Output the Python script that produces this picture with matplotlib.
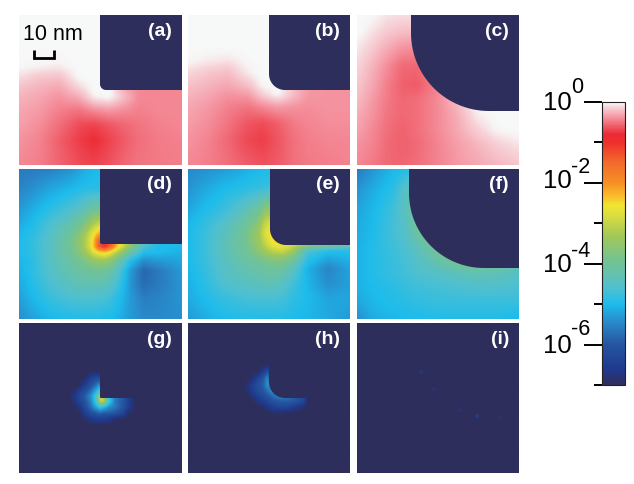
import numpy as np
from matplotlib import pyplot as plt
from matplotlib.colors import LinearSegmentedColormap, Normalize
from matplotlib.cm import ScalarMappable
from matplotlib.patches import Polygon

W, H = 634, 484
plt.rcParams['font.family'] = ['Liberation Sans', 'DejaVu Sans']

# colour scale, log10 value -> colour
scale_vals = [-7, -6.6, -6.0, -5.5, -5.0, -4.6, -4.2, -3.9, -3.3, -2.75, -2.55,
              -2.3, -2.0, -1.5, -1.0, -0.8, -0.6, -0.35, -0.12, -0.03, 0]
scale_cols = ['#2e2e5c', '#1f3a8f', '#25559f', '#2a84c6', '#1dbcec', '#50c0d0', '#68c2a8',
              '#74c391', '#a3c856', '#e0df3c', '#f0e531', '#fbb829', '#f68f25', '#f26b2c',
              '#ee2f2d', '#ec2a34', '#ef5a66', '#f59aa6', '#f7d5da', '#f7f5f5', '#f7f9f8']

# log10 field sampled from each panel, position in px inside the panel
a_x = [0, 20, 40, 60, 75, 90, 105, 120, 140, 163]
a_y = [0, 30, 50, 62, 72, 82, 95, 110, 125, 150]
a_z = [[0, 0, 0, 0, 0, 0, 0, 0, 0, 0],
       [0, 0, 0, 0, 0, 0, 0, 0, 0, 0],
       [-0.01, -0.03, -0.05, 0, 0, 0, 0, 0, 0, 0],
       [-0.1, -0.18, -0.2, -0.02, 0, 0, -0.3, -0.4, -0.42, -0.42],
       [-0.2, -0.25, -0.3, -0.12, 0, 0, -0.3, -0.42, -0.42, -0.42],
       [-0.25, -0.3, -0.38, -0.28, -0.05, 0, -0.2, -0.42, -0.42, -0.42],
       [-0.3, -0.35, -0.45, -0.5, -0.4, -0.35, -0.4, -0.45, -0.42, -0.42],
       [-0.33, -0.4, -0.52, -0.66, -0.7, -0.62, -0.55, -0.5, -0.45, -0.42],
       [-0.38, -0.44, -0.58, -0.72, -0.8, -0.7, -0.6, -0.52, -0.47, -0.45],
       [-0.42, -0.46, -0.56, -0.66, -0.7, -0.64, -0.55, -0.5, -0.48, -0.46]]

b_x = [0, 20, 40, 60, 75, 90, 105, 120, 140, 163]
b_y = [0, 30, 45, 58, 70, 80, 92, 108, 125, 150]
b_z = [[0, 0, 0, 0, 0, 0, 0, 0, 0, 0],
       [0, 0, 0, 0, 0, 0, 0, 0, 0, 0],
       [-0.02, -0.06, -0.08, -0.02, 0, 0, 0, 0, 0, 0],
       [-0.12, -0.18, -0.22, -0.06, 0, 0, -0.2, -0.35, -0.38, -0.38],
       [-0.2, -0.25, -0.3, -0.2, -0.02, 0, -0.2, -0.36, -0.38, -0.38],
       [-0.25, -0.3, -0.38, -0.35, -0.15, -0.02, -0.2, -0.36, -0.38, -0.38],
       [-0.3, -0.36, -0.45, -0.5, -0.42, -0.35, -0.38, -0.4, -0.38, -0.38],
       [-0.34, -0.4, -0.5, -0.62, -0.66, -0.58, -0.48, -0.43, -0.4, -0.4],
       [-0.38, -0.44, -0.55, -0.68, -0.72, -0.62, -0.52, -0.46, -0.43, -0.42],
       [-0.42, -0.46, -0.52, -0.6, -0.64, -0.6, -0.52, -0.48, -0.46, -0.44]]

c_x = [0, 15, 30, 45, 60, 80, 100, 120, 140, 163]
c_y = [0, 15, 30, 50, 70, 85, 100, 115, 130, 150]
c_z = [[0, -0.02, -0.08, -0.1, -0.1, -0.1, -0.1, -0.1, -0.1, -0.1],
       [0, -0.08, -0.16, -0.2, -0.2, -0.2, -0.2, -0.2, -0.2, -0.2],
       [-0.06, -0.15, -0.26, -0.35, -0.38, -0.3, -0.3, -0.3, -0.3, -0.3],
       [-0.12, -0.25, -0.4, -0.54, -0.55, -0.4, -0.3, -0.3, -0.3, -0.3],
       [-0.18, -0.3, -0.46, -0.58, -0.6, -0.45, -0.2, -0.1, -0.1, -0.1],
       [-0.22, -0.35, -0.48, -0.55, -0.52, -0.42, -0.22, -0.02, 0, 0],
       [-0.28, -0.38, -0.5, -0.55, -0.52, -0.42, -0.28, -0.06, 0, 0],
       [-0.32, -0.42, -0.52, -0.57, -0.52, -0.42, -0.3, -0.15, -0.03, 0],
       [-0.38, -0.44, -0.54, -0.58, -0.54, -0.44, -0.34, -0.25, -0.15, -0.08],
       [-0.42, -0.48, -0.54, -0.56, -0.52, -0.44, -0.36, -0.3, -0.24, -0.18]]

d_x = [0, 12, 30, 50, 62, 70, 75, 80, 86, 92, 100, 112, 125, 140, 163]
d_y = [0, 20, 40, 55, 65, 72, 78, 84, 92, 102, 115, 130, 150]
d_z = [[-5.6, -5.6, -5.55, -5.4, -5.2, -5.1, -5.05, -5, -5, -5, -5, -5, -5, -5, -5],
       [-5.5, -5.4, -5.2, -5.05, -4.95, -4.9, -4.9, -4.9, -4.9, -4.9, -4.9, -4.9, -4.9, -4.9, -4.9],
       [-5.3, -5.15, -4.9, -4.65, -4.45, -4.2, -4.1, -4, -4, -4, -4, -4, -4, -4, -4],
       [-5.15, -5.0, -4.65, -4.3, -3.95, -3.5, -3.2, -3, -3, -3, -3, -3, -3, -3, -3],
       [-5.05, -4.9, -4.55, -4.1, -3.6, -3.0, -2.6, -2.2, -2, -2, -3, -3, -4, -4, -4],
       [-5.0, -4.85, -4.5, -4.0, -3.45, -2.9, -2.3, -1.4, -1.1, -1.3, -2.5, -3.5, -4.5, -5, -5],
       [-5.0, -4.85, -4.5, -4.0, -3.5, -2.9, -2.3, -1.3, -0.95, -1.5, -2.6, -3.6, -4.6, -4.95, -5.05],
       [-5.0, -4.85, -4.5, -4.05, -3.6, -3.15, -2.75, -2.55, -2.4, -2.7, -3.3, -4.2, -4.95, -5.0, -5.1],
       [-5.05, -4.9, -4.5, -4.15, -3.85, -3.65, -3.5, -3.4, -3.4, -3.6, -4.1, -4.95, -5.4, -5.3, -5.2],
       [-5.1, -4.9, -4.55, -4.25, -4.1, -4.0, -3.95, -3.95, -4.0, -4.15, -4.55, -5.3, -5.8, -5.6, -5.3],
       [-5.15, -4.95, -4.65, -4.4, -4.3, -4.3, -4.3, -4.3, -4.35, -4.45, -4.75, -5.35, -5.75, -5.6, -5.35],
       [-5.25, -5.05, -4.8, -4.65, -4.6, -4.6, -4.6, -4.65, -4.65, -4.75, -4.95, -5.3, -5.55, -5.5, -5.35],
       [-5.4, -5.25, -5.05, -4.95, -4.95, -4.95, -4.95, -4.95, -5.0, -5.0, -5.1, -5.3, -5.45, -5.45, -5.4]]

e_x = [0, 15, 35, 55, 70, 78, 86, 95, 105, 120, 140, 163]
e_y = [0, 20, 40, 55, 65, 75, 82, 90, 100, 115, 130, 150]
e_z = [[-5.45, -5.4, -5.3, -5.15, -5.05, -5, -5, -5, -5, -5, -5, -5],
       [-5.35, -5.2, -5.0, -4.9, -4.8, -4.75, -4.7, -4.7, -4.7, -4.7, -4.7, -4.7],
       [-5.2, -5.0, -4.8, -4.45, -4.1, -3.6, -3.5, -3.5, -3.5, -3.5, -3.5, -3.5],
       [-5.05, -4.85, -4.55, -4.15, -3.6, -2.9, -2.7, -2.7, -2.7, -2.7, -2.7, -2.7],
       [-5.0, -4.8, -4.45, -4.0, -3.4, -2.7, -2.4, -2.4, -2.6, -3, -3.5, -4],
       [-5.0, -4.8, -4.4, -4.0, -3.45, -2.95, -2.5, -2.55, -2.8, -3.2, -3.5, -4],
       [-5.0, -4.8, -4.4, -4.05, -3.6, -3.25, -3.0, -2.9, -3.3, -4.6, -4.9, -4.95],
       [-5.0, -4.8, -4.45, -4.15, -3.9, -3.75, -3.6, -3.6, -3.9, -4.85, -5.2, -5.05],
       [-5.05, -4.85, -4.5, -4.3, -4.15, -4.05, -4.0, -4.1, -4.4, -5.1, -5.5, -5.2],
       [-5.1, -4.9, -4.6, -4.45, -4.4, -4.35, -4.35, -4.45, -4.7, -5.05, -5.4, -5.25],
       [-5.15, -5.0, -4.8, -4.7, -4.65, -4.65, -4.65, -4.7, -4.85, -5.0, -5.2, -5.2],
       [-5.3, -5.15, -5.0, -4.95, -4.95, -4.95, -4.95, -4.95, -5.0, -5.05, -5.15, -5.3]]

f_x = [0, 15, 35, 50, 60, 80, 100, 120, 140, 163]
f_y = [0, 20, 40, 60, 80, 95, 105, 120, 135, 150]
f_z = [[-5.6, -5.35, -5.05, -4.95, -4.95, -4.9, -4.9, -4.9, -4.9, -4.9],
       [-5.35, -5.15, -4.9, -4.45, -4.3, -4.3, -4.3, -4.3, -4.3, -4.3],
       [-5.2, -5.05, -4.75, -4.35, -4.0, -3.9, -3.9, -3.9, -3.9, -3.9],
       [-5.15, -5.0, -4.7, -4.45, -4.0, -3.8, -3.8, -3.8, -3.8, -3.8],
       [-5.1, -4.95, -4.75, -4.6, -4.4, -3.95, -3.7, -3.7, -3.7, -3.7],
       [-5.1, -4.95, -4.8, -4.65, -4.55, -4.3, -4.0, -3.9, -4.0, -4.3],
       [-5.1, -4.95, -4.8, -4.7, -4.6, -4.5, -4.4, -4.3, -4.35, -4.5],
       [-5.1, -5.0, -4.9, -4.8, -4.75, -4.7, -4.65, -4.6, -4.6, -4.65],
       [-5.2, -5.05, -4.95, -4.9, -4.85, -4.8, -4.8, -4.8, -4.8, -4.8],
       [-5.4, -5.15, -5.05, -5.0, -5.0, -4.95, -4.95, -4.95, -4.95, -5.05]]

g_x = [0, 50, 55, 60, 66, 72, 78, 81, 84, 90, 96, 104, 110, 116, 163]
g_y = [0, 48, 54, 62, 68, 73, 78, 84, 90, 96, 102, 150]
g_z = [[-7] * 15,
       [-7] * 15,
       [-7, -7, -7, -7, -7, -6.5, -6.3, -6.4, -7, -7, -7, -7, -7, -7, -7],
       [-7, -7, -7, -7, -6.5, -6.1, -5.6, -5.3, -7, -7, -7, -7, -7, -7, -7],
       [-7, -7, -6.9, -6.5, -6.1, -5.7, -5.0, -4.3, -7, -7, -7, -7, -7, -7, -7],
       [-7, -7, -6.7, -6.3, -5.9, -5.4, -4.4, -3.0, -3.2, -5.0, -5.6, -6.0, -6.5, -7, -7],
       [-7, -7, -6.8, -6.4, -6.0, -5.5, -4.4, -3.0, -2.9, -4.6, -5.6, -6.0, -6.5, -7, -7],
       [-7, -7, -7, -6.7, -6.2, -5.7, -5.1, -4.7, -4.9, -5.4, -5.6, -6.0, -6.5, -7, -7],
       [-7, -7, -7, -7, -6.5, -6.1, -5.9, -5.8, -5.9, -5.9, -6.0, -6.3, -6.9, -7, -7],
       [-7, -7, -7, -7, -6.9, -6.6, -6.5, -6.5, -6.5, -6.6, -6.9, -7, -7, -7, -7],
       [-7] * 15,
       [-7] * 15]

h_x = [0, 55, 60, 65, 70, 75, 80, 84, 88, 94, 100, 108, 116, 120, 163]
h_y = [0, 36, 42, 48, 55, 62, 68, 73, 78, 84, 90, 96, 150]
h_z = [[-7] * 15,
       [-7] * 15,
       [-7, -7, -7, -7, -7, -7, -6.9, -7, -7, -7, -7, -7, -7, -7, -7],
       [-7, -7, -7, -7, -7, -6.6, -6.1, -7, -7, -7, -7, -7, -7, -7, -7],
       [-7, -7, -7, -6.8, -6.4, -6.0, -5.4, -7, -7, -7, -7, -7, -7, -7, -7],
       [-7, -7, -6.8, -6.4, -6.1, -5.9, -5.3, -5.6, -7, -7, -7, -7, -7, -7, -7],
       [-7, -7, -6.8, -6.5, -6.2, -6.0, -5.7, -5.4, -5.7, -7, -7, -7, -7, -7, -7],
       [-7, -7, -7, -6.7, -6.4, -6.2, -6.0, -5.8, -5.6, -5.5, -5.7, -6.0, -6.4, -7, -7],
       [-7, -7, -7, -7, -6.7, -6.5, -6.3, -6.1, -6.0, -5.9, -5.9, -6.0, -6.3, -7, -7],
       [-7, -7, -7, -7, -7, -6.9, -6.7, -6.5, -6.4, -6.3, -6.3, -6.6, -6.9, -7, -7],
       [-7, -7, -7, -7, -7, -7, -7, -6.9, -6.9, -6.9, -7, -7, -7, -7, -7],
       [-7] * 15,
       [-7] * 15]

# panel (i) is empty but for a few faint specks along the tip edge
i_x = [0, 163]
i_y = [0, 150]
i_z = [[-7, -7], [-7, -7]]
speck_x = [64, 77, 103, 120, 143]
speck_y = [49, 66, 87, 93, 95]
speck_v = [-6.6, -6.7, -6.7, -6.4, -6.8]

labels = ['(a)', '(b)', '(c)', '(d)', '(e)', '(f)', '(g)', '(h)', '(i)']
fields = [(a_x, a_y, a_z), (b_x, b_y, b_z), (c_x, c_y, c_z),
          (d_x, d_y, d_z), (e_x, e_y, e_z), (f_x, f_y, f_z),
          (g_x, g_y, g_z), (h_x, h_y, h_z), (i_x, i_y, i_z)]

# tip outline per panel: left edge, lower edge, corner radius. None means not drawn
tips = [(81, 75, 6), (81, 75, 16), (54, 96, 78),
        (81, 75, 2), (82, 76, 16), (52, 99, 75),
        (81, 75, 1), (81, 75, 16), None]
blur = [7, 7, 7, 3, 5, 7, 3, 3, 1]

col_x = [19, 188, 357]
col_w = [163, 162, 162]
row_y = [15, 169, 323]
row_h = 150

bar_ticks = [0, -1, -2, -3, -4, -5, -6, -7]
bar_labels = ['0', '-2', '-4', '-6']
ten_base = [110, 188, 272, 353]
sup_base = [93, 173, 257, 335]

cmap = LinearSegmentedColormap.from_list(
    'field', [((v + 7) / 7, c) for v, c in zip(scale_vals, scale_cols)], N=1024)
norm = Normalize(-7, 0)


def px_axes(x, y, w, h):
    # axes placed with pixel numbers counted from the top left
    return fig.add_axes([x / W, 1 - (y + h) / H, w / W, h / H])


def resample(xs, ys, zs, w, h, size):
    gx = np.arange(0, w + 1)
    gy = np.arange(0, h + 1)
    zs = np.asarray(zs, dtype=float)
    rows = np.array([np.interp(gx, xs, r) for r in zs])
    fine = np.array([np.interp(gy, ys, rows[:, i]) for i in range(len(gx))]).T
    # soften the kinks of the sampling grid
    kern = np.ones(size) / size
    half = size // 2
    for axis in (0, 1):
        pad = np.pad(fine, [(half, half) if k == axis else (0, 0) for k in (0, 1)], mode='edge')
        fine = np.apply_along_axis(lambda m: np.convolve(m, kern, mode='valid'), axis, pad)
    return fine


def tip_patch(left, bottom, r, w):
    t = np.linspace(np.pi, np.pi / 2, 40)
    arc_x = left + r - r * np.abs(np.cos(t))
    arc_y = bottom - r + r * np.sin(t)
    xy = [(left, -5)] + list(zip(arc_x, arc_y)) + [(w + 5, bottom), (w + 5, -5)]
    return Polygon(xy, closed=True, facecolor=scale_cols[0], edgecolor='none', zorder=3)


fig = plt.figure(figsize=(W / 100, H / 100), dpi=100, facecolor='white')

for n, (xs, ys, zs) in enumerate(fields):
    row, col = divmod(n, 3)
    w = col_w[col]
    ax = px_axes(col_x[col], row_y[row], w, row_h)
    ax.imshow(resample(xs, ys, zs, w, row_h, blur[n]), cmap=cmap, norm=norm,
              extent=(0, w, row_h, 0), aspect='auto', interpolation='bilinear')
    if tips[n] is not None:
        ax.add_patch(tip_patch(*tips[n], w))
    if n == 8:
        ax.scatter(speck_x, speck_y, c=speck_v, cmap=cmap, norm=norm, s=8, alpha=0.7,
                   linewidths=0, zorder=4)
    ax.text(w - 10, 16, labels[n], color='white', fontsize=14, fontweight='bold',
            ha='right', va='center', zorder=5)
    ax.set_xlim(0, w)
    ax.set_ylim(row_h, 0)
    ax.axis('off')

# scale bar on panel (a)
ax0 = fig.axes[0]
ax0.plot([15, 15, 35, 35], [35, 43, 43, 35], color='black', lw=2, solid_joinstyle='miter',
         solid_capstyle='butt', zorder=5)
ax0.text(4, 19, '10 nm', color='black', fontsize=15.5, ha='left', va='center', zorder=5)

# colour bar
cax = px_axes(602, 102, 23, 283)
cb = fig.colorbar(ScalarMappable(norm=norm, cmap=cmap), cax=cax)
cb.outline.set_linewidth(0.8)
cb.outline.set_edgecolor('#222222')
cax.yaxis.set_ticks_position('left')
cb.set_ticks(bar_ticks)
cax.set_yticklabels([])
cax.tick_params(axis='y', which='major', length=6, width=1.4, color='black', left=True, right=False)
for tick, v in zip(cax.yaxis.get_major_ticks(), bar_ticks):
    if v % 2 == 0:
        tick.tick1line.set_markersize(13)

for sup, ty, sy in zip(bar_labels, ten_base, sup_base):
    fig.text(543 / W, 1 - ty / H, '10', fontsize=18.5, ha='left', va='baseline')
    fig.text(571 / W, 1 - sy / H, sup, fontsize=15.5, ha='left', va='baseline')

fig.savefig('out.png', dpi=100)
